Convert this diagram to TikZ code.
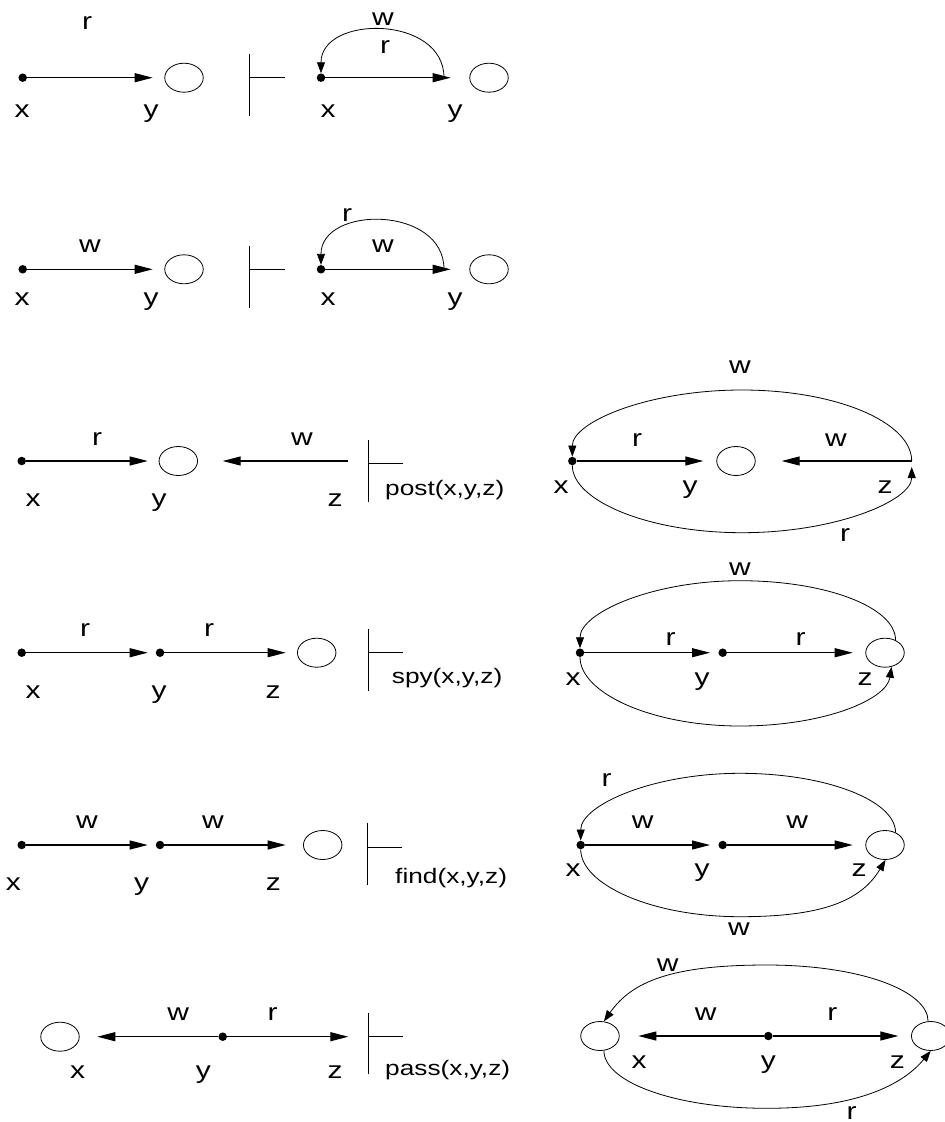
\documentclass[tikz,border=0pt]{standalone}
\usepackage{fontspec}
\newfontfamily\lblfont[FakeStretch=1.25]{Liberation Sans}
\usetikzlibrary{arrows.meta,shapes.geometric}
\tikzset{
  lbl/.style={font=\lblfont\fontsize{24}{24}\selectfont, inner sep=0pt, anchor=base},
  fn/.style={font=\lblfont\fontsize{21}{21}\selectfont, inner sep=0pt, anchor=base west},
  dotn/.style={circle, fill=black, inner sep=0pt, minimum size=8.5pt},
  ell/.style={ellipse, draw, line width=0.8pt, inner sep=0pt, minimum width=38.5pt, minimum height=29pt},
  arr/.style={line width=1.1pt, -{Triangle[length=18pt,width=9pt]}},
  carr/.style={line width=0.8pt, -{Triangle[length=11pt,width=8pt]}},
  tsl/.style={line width=0.9pt},
}
\begin{document}
\begin{tikzpicture}[x=1pt,y=-1pt]
\useasboundingbox (0,0) rectangle (945,1122);
% ---------------- Row 1 ----------------
\node[dotn] (d1x) at (22.7,77.7) {};
\coordinate (t1) at (152.7,77.7);
\draw[arr] (d1x) -- (t1);
\node[ell] (e1) at (184,77.7) {};
\node[lbl] (l1r) at (87,29.3) {r};
\node[lbl] (l1x) at (22,117.3) {x};
\node[lbl] (l1y) at (151,117.3) {y};
\coordinate (ts1a) at (249.3,54);
\coordinate (ts1b) at (249.3,116);
\coordinate (ts1c) at (285,77.7);
\draw[tsl] (ts1a) -- (ts1b) (ts1a|-ts1c) -- (ts1c);
\node[dotn] (d1rx) at (321,77.7) {};
\coordinate (t1r) at (450.7,77.7);
\draw[arr] (d1rx) -- (t1r);
\node[ell] (e1r) at (489,77.7) {};
\coordinate (a1) at (444,77.7);
\draw[carr] (a1) .. controls +(0,-63) and +(0,-63) .. (d1rx);
\node[lbl] (l1rw) at (383,25) {w};
\node[lbl] (l1rr) at (385,53.3) {r};
\node[lbl] (l1rx) at (328,117.3) {x};
\node[lbl] (l1ry) at (455,117.3) {y};
% ---------------- Row 2 ----------------
\node[dotn] (d2x) at (22.7,269.3) {};
\coordinate (t2) at (152.7,269.3);
\draw[arr] (d2x) -- (t2);
\node[ell] (e2) at (184,269.3) {};
\node[lbl] (l2w) at (90,252.7) {w};
\node[lbl] (l2x) at (22,305.6) {x};
\node[lbl] (l2y) at (151,305.6) {y};
\coordinate (ts2a) at (249.3,246);
\coordinate (ts2b) at (249.3,308);
\coordinate (ts2c) at (285,269.3);
\draw[tsl] (ts2a) -- (ts2b) (ts2a|-ts2c) -- (ts2c);
\node[dotn] (d2rx) at (321,269.3) {};
\coordinate (t2r) at (450.7,269.3);
\draw[arr] (d2rx) -- (t2r);
\node[ell] (e2r) at (489,269.3) {};
\coordinate (a2) at (444,269.3);
\draw[carr] (a2) .. controls +(0,-64) and +(0,-64) .. (d2rx);
\node[lbl] (l2rr) at (347,221.7) {r};
\node[lbl] (l2rw) at (383,252.7) {w};
\node[lbl] (l2rx) at (328,305.6) {x};
\node[lbl] (l2ry) at (455,305.6) {y};
% ---------------- Row 3 (post) ----------------
\node[dotn] (d3x) at (21.7,461) {};
\coordinate (t3a) at (147.7,461);
\draw[arr] (d3x) -- (t3a);
\node[ell] (e3) at (178.3,461) {};
\coordinate (z3) at (348.3,461);
\coordinate (t3b) at (222.7,461);
\draw[arr] (z3) -- (t3b);
\node[lbl] (l3r) at (97,445) {r};
\node[lbl] (l3w) at (302,445) {w};
\node[lbl] (l3x) at (33,506) {x};
\node[lbl] (l3y) at (159,506) {y};
\node[lbl] (l3z) at (335,506.7) {z};
\coordinate (ts3a) at (368.3,440);
\coordinate (ts3b) at (368.3,502);
\coordinate (ts3c) at (403,463);
\draw[tsl] (ts3a) -- (ts3b) (ts3a|-ts3c) -- (ts3c);
\node[fn] (f3) at (385,495) {post(x,y,z)};
% right
\node[dotn] (d3rx) at (572.3,461) {};
\coordinate (t3r) at (703.3,461);
\draw[arr] (d3rx) -- (t3r);
\node[ell] (e3r) at (736,461) {};
\coordinate (z3r) at (911.7,461);
\coordinate (t3rb) at (781.7,461);
\draw[arr] (z3r) -- (t3rb);
\coordinate (top3) at (742,390);
\coordinate (bot3) at (742,532.7);
\draw[carr] (z3r) .. controls +(0,-39) and +(94,0) .. (top3) .. controls +(-94,0) and +(0,-39) .. (d3rx);
\draw[carr, shorten >=6pt] (d3rx) .. controls +(0,39.6) and +(-94,0) .. (bot3) .. controls +(94,0) and +(0,39.6) .. (z3r);
\node[lbl] (l3rw) at (740,373.3) {w};
\node[lbl] (l3rr) at (637,446) {r};
\node[lbl] (l3rw2) at (836,446) {w};
\node[lbl] (l3rx) at (561,493.3) {x};
\node[lbl] (l3ry) at (690,493.3) {y};
\node[lbl] (l3rz) at (885,493.3) {z};
\node[lbl] (l3rr2) at (845,541.7) {r};
% ---------------- Row 4 (spy) ----------------
\node[dotn] (d4x) at (21.7,652.7) {};
\coordinate (t4a) at (147.7,652.7);
\draw[arr] (d4x) -- (t4a);
\node[dotn] (d4y) at (160,652.7) {};
\coordinate (t4b) at (285.7,652.7);
\draw[arr] (d4y) -- (t4b);
\node[ell] (e4) at (316.7,652.7) {};
\node[lbl] (l4r1) at (85,636.7) {r};
\node[lbl] (l4r2) at (209,636.7) {r};
\node[lbl] (l4x) at (33,698.3) {x};
\node[lbl] (l4y) at (159,698.3) {y};
\node[lbl] (l4z) at (273,698.3) {z};
\coordinate (ts4a) at (368.3,629);
\coordinate (ts4b) at (368.3,691);
\coordinate (ts4c) at (403,652.7);
\draw[tsl] (ts4a) -- (ts4b) (ts4a|-ts4c) -- (ts4c);
\node[fn] (f4) at (391.7,683) {spy(x,y,z)};
% right
\node[dotn] (d4rx) at (580,652.7) {};
\coordinate (t4ra) at (710,652.7);
\draw[arr] (d4rx) -- (t4ra);
\node[dotn] (d4ry) at (722.7,652.7) {};
\coordinate (t4rb) at (852.7,652.7);
\draw[arr] (d4ry) -- (t4rb);
\node[ell] (e4r) at (885,652.7) {};
\coordinate (top4) at (740,580.7);
\coordinate (bot4) at (740,726);
\draw[carr] (e4r.50) .. controls +(0,-33) and +(86,0) .. (top4) .. controls +(-88,0) and +(0,-39.7) .. (d4rx);
\draw[carr] (d4rx) .. controls +(0,40.5) and +(-88,0) .. (bot4) .. controls +(84,0) and +(-5,33) .. (e4r.-65);
\node[lbl] (l4rw) at (740,575) {w};
\node[lbl] (l4rr1) at (670.7,645.7) {r};
\node[lbl] (l4rr2) at (800.7,645.7) {r};
\node[lbl] (l4rx) at (573,685) {x};
\node[lbl] (l4ry) at (702,685) {y};
\node[lbl] (l4rz) at (865,685) {z};
% ---------------- Row 5 (find) ----------------
\node[dotn] (d5x) at (21.7,845) {};
\coordinate (t5a) at (147.7,845);
\draw[arr] (d5x) -- (t5a);
\node[dotn] (d5y) at (160,845) {};
\coordinate (t5b) at (285.7,845);
\draw[arr] (d5y) -- (t5b);
\node[ell] (e5) at (322.7,845) {};
\node[lbl] (l5w1) at (87,828.3) {w};
\node[lbl] (l5w2) at (213,828.3) {w};
\node[lbl] (l5x) at (13.3,890) {x};
\node[lbl] (l5y) at (141.7,890) {y};
\node[lbl] (l5z) at (273.3,890) {z};
\coordinate (ts5a) at (367.7,823.3);
\coordinate (ts5b) at (367.7,885);
\coordinate (ts5c) at (401.7,847.3);
\draw[tsl] (ts5a) -- (ts5b) (ts5a|-ts5c) -- (ts5c);
\node[fn] (f5) at (395,883) {find(x,y,z)};
% right
\node[dotn] (d5rx) at (580.7,845) {};
\coordinate (t5ra) at (710,845);
\draw[arr] (d5rx) -- (t5ra);
\node[dotn] (d5ry) at (722.7,845) {};
\coordinate (t5rb) at (852.7,845);
\draw[arr] (d5ry) -- (t5rb);
\node[ell] (e5r) at (885,845) {};
\coordinate (top5) at (740,773.3);
\coordinate (bot5) at (740,916.7);
\draw[carr] (e5r.50) .. controls +(0,-32) and +(86,0) .. (top5) .. controls +(-88,0) and +(0,-39.6) .. (d5rx);
\draw[carr] (d5rx) .. controls +(0,39.6) and +(-88,0) .. (bot5) .. controls +(80,0) and +(-25,42) .. (e5r.-88);
\node[lbl] (l5rr) at (606.7,786.7) {r};
\node[lbl] (l5rw1) at (642.7,828.3) {w};
\node[lbl] (l5rw2) at (797.3,828.3) {w};
\node[lbl] (l5rx) at (573,876.7) {x};
\node[lbl] (l5ry) at (702,876.7) {y};
\node[lbl] (l5rz) at (859,876.7) {z};
\node[lbl] (l5rw3) at (739,935) {w};
% ---------------- Row 6 (pass) ----------------
\node[ell] (e6) at (60,1036.7) {};
\node[dotn] (d6y) at (222.7,1036.7) {};
\coordinate (t6a) at (97.3,1036.7);
\coordinate (t6b) at (348.3,1036.7);
\draw[arr] (d6y) -- (t6a);
\draw[arr] (d6y) -- (t6b);
\node[lbl] (l6w) at (178.3,1020) {w};
\node[lbl] (l6r) at (272.7,1020) {r};
\node[lbl] (l6x) at (77.7,1078.3) {x};
\node[lbl] (l6y) at (203.3,1078.3) {y};
\node[lbl] (l6z) at (335,1078.3) {z};
\coordinate (ts6a) at (368.3,1013);
\coordinate (ts6b) at (368.3,1074);
\coordinate (ts6c) at (403.3,1036.7);
\draw[tsl] (ts6a) -- (ts6b) (ts6a|-ts6c) -- (ts6c);
\node[fn] (f6) at (385,1075) {pass(x,y,z)};
% right
\node[ell] (e6l) at (600,1036) {};
\node[dotn] (d6ry) at (768.3,1036) {};
\coordinate (t6ra) at (638.3,1036);
\coordinate (t6rb) at (898.3,1036);
\draw[arr] (d6ry) -- (t6ra);
\draw[arr] (d6ry) -- (t6rb);
\node[ell] (e6r) at (930.7,1036) {};
\coordinate (top6) at (766.7,965);
\coordinate (bot6) at (766.7,1108.3);
\draw[carr] (e6r.100) .. controls +(0,-30) and +(95,0) .. (top6) .. controls +(-95,0) and +(28,-40) .. (e6l.75);
\draw[carr] (e6l.-75) .. controls +(0,32) and +(-90,0) .. (bot6) .. controls +(90,0) and +(-28,34) .. (e6r.-90);
\node[lbl] (l6rw) at (667.7,971.7) {w};
\node[lbl] (l6rw2) at (705.7,1020) {w};
\node[lbl] (l6rr) at (832.3,1020) {r};
\node[lbl] (l6rx) at (639,1068.3) {x};
\node[lbl] (l6ry) at (768.3,1068.3) {y};
\node[lbl] (l6rz) at (897.3,1068.3) {z};
\node[lbl] (l6rr2) at (851.7,1119) {r};
\end{tikzpicture}
\end{document}
